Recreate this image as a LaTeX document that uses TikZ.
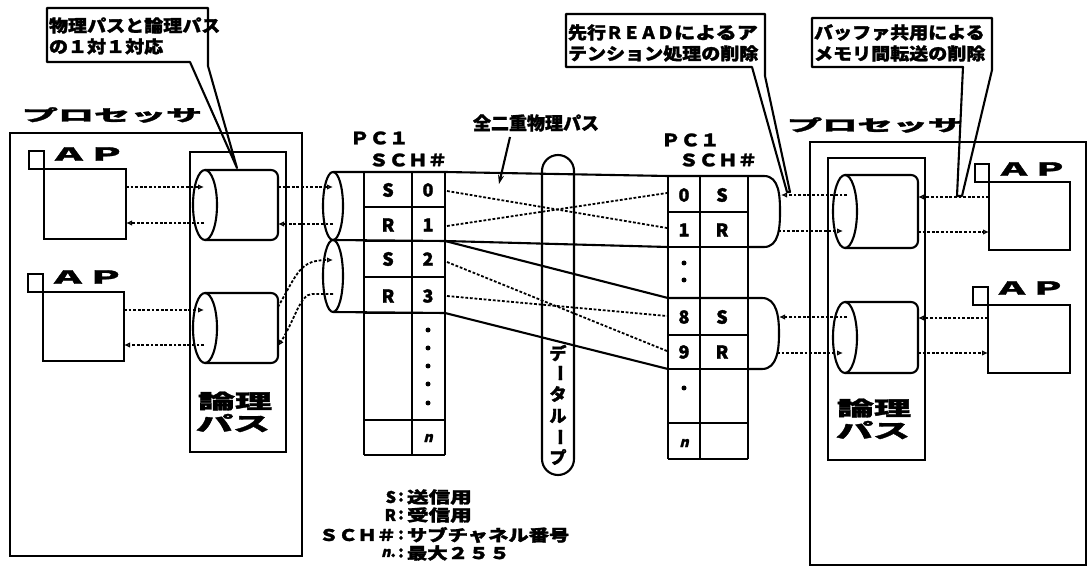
\documentclass[tikz,border=0pt]{standalone}
\usepackage{fontspec}
\usepackage{graphicx}
\usetikzlibrary{arrows.meta}
\newfontfamily\jp{Noto Sans CJK JP}[BoldFeatures={FakeBold=1.6}]
\newfontfamily\jpsl{Noto Sans CJK JP}[FakeSlant=0.25,BoldFeatures={FakeBold=1.6,FakeSlant=0.25}]
\newcommand\wsc[2]{\scalebox{#1}[1]{#2}}
\newcommand\fsz[1]{\fontsize{#1}{#1}\selectfont}
\newcommand\lcyl[5]{%
  \draw[ln,rounded corners=7pt] (#1,#2-#4) -- (#5,#2-#4) -- (#5,#2+#4) -- (#1,#2+#4);
  \draw[ln] (#1,#2) ellipse ({#3pt} and {#4pt});}
\begin{document}
\begin{tikzpicture}[x=1pt,y=-1pt,
 ln/.style={line width=2.1pt, line join=round},
 rect/.style={draw, line width=2.1pt, inner sep=0pt, outer sep=0pt, anchor=north west},
 dl/.style={line width=1.8pt, dash pattern=on 2.8pt off 1.8pt},
 arr/.style={dl, -{Latex[open,length=6pt,width=5.5pt]}},
 t/.style={inner sep=0pt, outer sep=0pt, font=\jp\bfseries},
]
\useasboundingbox (0,0) rectangle (1088,569);

% ---------- processors ----------
\node[rect, minimum width=292pt, minimum height=423pt] (lproc) at (10,133) {};
\node[rect, minimum width=96pt, minimum height=300pt] (llog) at (190,152) {};
\node[rect, minimum width=276pt, minimum height=423pt] (rproc) at (810,142) {};
\node[rect, minimum width=97pt, minimum height=302pt] (rlog) at (828,158) {};
\node[t] (lproct) at (112,115) {\fsz{16}\wsc{2.25}{プロセッサ}};
\node[t] (rproct) at (875,125) {\fsz{16}\wsc{2.2}{プロセッサ}};
\node[t] (llog1) at (235,401) {\fsz{20}\wsc{1.85}{論理}};
\node[t] (llog2) at (233,423) {\fsz{20}\wsc{1.85}{パス}};
\node[t] (rlog1) at (874,408) {\fsz{20}\wsc{1.85}{論理}};
\node[t] (rlog2) at (873,430) {\fsz{20}\wsc{1.85}{パス}};

% ---------- AP boxes ----------
\node[rect, minimum width=82pt, minimum height=70pt] (lap1) at (44,169) {};
\node[rect, minimum width=15pt, minimum height=18pt] (lap1s) at (29,151) {};
\node[t, anchor=west] (lap1t) at (50,154) {\fsz{18}\wsc{2.1}{ＡＰ}};
\node[rect, minimum width=81pt, minimum height=69pt] (lap2) at (43,292) {};
\node[rect, minimum width=15pt, minimum height=18pt] (lap2s) at (28,274) {};
\node[t, anchor=west] (lap2t) at (49,277) {\fsz{18}\wsc{2.1}{ＡＰ}};
\node[rect, minimum width=81pt, minimum height=68pt] (rap1) at (989,182) {};
\node[rect, minimum width=14pt, minimum height=18pt] (rap1s) at (975,164) {};
\node[t, anchor=west] (rap1t) at (996,169) {\fsz{18}\wsc{2.0}{ＡＰ}};
\node[rect, minimum width=82pt, minimum height=68pt] (rap2) at (988,305) {};
\node[rect, minimum width=15pt, minimum height=18pt] (rap2s) at (973,287) {};
\node[t, anchor=west] (rap2t) at (994,288) {\fsz{18}\wsc{2.0}{ＡＰ}};

% ---------- logical path cylinders ----------
\lcyl{205}{205}{12}{35}{278}
\lcyl{205}{328}{12}{35}{278}
\lcyl{845}{211.5}{12}{36.5}{918}
\lcyl{845}{337.5}{12}{35.5}{918}

% ---------- physical path tubes ----------
\draw[ln] (333,206) ellipse (10pt and 34pt);
\draw[ln] (333,276) ellipse (10pt and 36pt);
\draw[ln] (333,172) -- (445,172) -- (668,176) -- (748,176) -- (764,176)
  to[out=0,in=90] (780,212) to[out=-90,in=0] (764,247) -- (748,247);
\draw[ln] (333,240) -- (445,241) -- (668,247);
\draw[ln] (445,241) -- (668,298) -- (748,298) -- (762,298)
  to[out=0,in=90] (779,333) to[out=-90,in=0] (762,369) -- (748,369);
\draw[ln] (333,312) -- (445,313) -- (668,369);

% left table
\foreach \x in {364,412,445} \draw[ln] (\x,172) -- (\x,455);
\foreach \y in {172,207,241,277,313,420,455} \draw[ln] (364,\y) -- (445,\y);
% right table
\foreach \x in {668,700,748} \draw[ln] (\x,176) -- (\x,459);
\foreach \y in {176,212,247,298,335,369,423,459} \draw[ln] (668,\y) -- (748,\y);

\node[t] (ls0) at (388,190) {\fsz{18}S};
\node[t] (ln0) at (428,190) {\fsz{18}0};
\node[t] (ls1) at (388,225) {\fsz{18}R};
\node[t] (ln1) at (428,225) {\fsz{18}1};
\node[t] (ls2) at (388,259) {\fsz{18}S};
\node[t] (ln2) at (428,259) {\fsz{18}2};
\node[t] (ls3) at (388,296) {\fsz{18}R};
\node[t] (ln3) at (428,296) {\fsz{18}3};
\foreach \y in {330,348,366,384,403} \fill (428,\y) circle (2.5pt);
\node[t] (lnn) at (428,438) {\jpsl\bfseries\fsz{14}n};

\node[t] (rn0) at (684,195) {\fsz{18}0};
\node[t] (rs0) at (722,195) {\fsz{18}S};
\node[t] (rn1) at (684,230) {\fsz{18}1};
\node[t] (rs1) at (722,230) {\fsz{18}R};
\fill (684,263) circle (2.5pt);
\fill (684,280) circle (2.5pt);
\node[t] (rn8) at (684,317) {\fsz{18}8};
\node[t] (rs8) at (722,317) {\fsz{18}S};
\node[t] (rn9) at (684,352) {\fsz{18}9};
\node[t] (rs9) at (722,352) {\fsz{18}R};
\fill (684,388) circle (2.5pt);
\node[t] (rnn) at (684,443) {\jpsl\bfseries\fsz{14}n};

% crossing dotted channels
\draw[dl] (447,191) -- (667,228);
\draw[dl] (447,226) -- (667,193);
\draw[dl] (447,262) -- (667,351);
\draw[dl] (447,296) -- (667,316);

% data loop
\draw[ln, rounded corners=16pt] (542,155) rectangle (574,475);
\node[t] (dl1) at (558,353) {\fsz{17}デ};
\node[t, rotate=-90] (dl2) at (558,373) {\fsz{17}ー};
\node[t] (dl3) at (558,394) {\fsz{17}タ};
\node[t] (dl4) at (558,416) {\fsz{17}ル};
\node[t, rotate=-90] (dl5) at (558,437) {\fsz{17}ー};
\node[t] (dl6) at (558,457) {\fsz{17}プ};

% full-duplex label
\node[t] (fdp) at (536,123) {\fsz{18}全二重物理パス};
\coordinate (fdpa) at (510,137);
\coordinate (fdpb) at (499,184);
\draw[ln, -{Stealth[length=9pt,width=6pt]}] (fdpa) -- (fdpb);

% PC1 labels
\node[t, anchor=west] (lpc) at (350,138) {\fsz{17}\wsc{1.15}{ＰＣ１}};
\node[t, anchor=west] (lsch) at (369,160) {\fsz{17}\wsc{1.15}{ＳＣＨ＃}};
\node[t, anchor=west] (rpc) at (661,140) {\fsz{17}\wsc{1.15}{ＰＣ１}};
\node[t, anchor=west] (rsch) at (679,160) {\fsz{17}\wsc{1.15}{ＳＣＨ＃}};

% ---------- arrows left ----------
\draw[arr] (126,187) -- (204,187);
\draw[arr] (204,223) -- (126,223);
\draw[arr] (278,187) -- (333,187);
\draw[arr] (333,224) -- (278,224);
\draw[arr] (124,310) -- (204,310);
\draw[arr] (204,345) -- (124,345);
\draw[arr] (278,307) .. controls (298,272) and (300,260) .. (333,260);
\draw[arr] (333,294) -- (312,294) .. controls (300,294) and (294,322) .. (278,346);

% ---------- arrows right ----------
\draw[arr] (847,195) -- (781,195);
\draw[arr] (778,231) -- (843,231);
\draw[arr] (989,197) -- (918,197);
\draw[arr] (918,232) -- (989,232);
\draw[arr] (847,317) -- (779,317);
\draw[arr] (777,353) -- (843,353);
\draw[arr] (988,318) -- (918,318);
\draw[arr] (918,353) -- (988,353);

% ---------- callouts ----------
\draw[ln] (47,8) -- (208,8) -- (208,66) -- (237,168) -- (190,62) -- (47,62) -- cycle;
\node[t, anchor=west] (c1a) at (49,25.5) {\fsz{17}\wsc{1.12}{物理パスと論理パス}};
\node[t, anchor=west] (c1b) at (49,46.5) {\fsz{17}\wsc{1.12}{の１対１対応}};

\draw[ln] (566,14) -- (765,14) -- (765,76) -- (790,192) -- (787,192) -- (752,67) -- (566,67) -- cycle;
\node[t, anchor=west] (c2a) at (568,32.5) {\fsz{17}\wsc{1.12}{先行}\wsc{1.0}{ＲＥＡＤ}\wsc{1.24}{によるア}};
\node[t, anchor=west] (c2b) at (568,53.5) {\fsz{17}\wsc{1.12}{テンション処理の削除}};

\draw[ln] (812,18) -- (992,18) -- (992,70) -- (962,196) -- (957,196) -- (963,67) -- (812,67) -- cycle;
\node[t, anchor=west] (c3a) at (814,32.5) {\fsz{17}\wsc{1.12}{バッファ共用による}};
\node[t, anchor=west] (c3b) at (814,53.5) {\fsz{17}\wsc{1.12}{メモリ間転送の削除}};

% ---------- legend ----------
\node[t, anchor=east] (lg1l) at (396,497) {\fsz{16}S};
\node[t] (lg1c) at (401,497) {\fsz{16}:};
\node[t, anchor=west] (lg1t) at (407,497) {\fsz{16}\wsc{1.35}{送信用}};
\node[t, anchor=east] (lg2l) at (396,515) {\fsz{16}R};
\node[t] (lg2c) at (401,515) {\fsz{16}:};
\node[t, anchor=west] (lg2t) at (407,515) {\fsz{16}\wsc{1.35}{受信用}};
\node[t, anchor=east] (lg3l) at (396,535) {\fsz{16}\wsc{1.2}{ＳＣＨ＃}};
\node[t] (lg3c) at (401,535) {\fsz{16}:};
\node[t, anchor=west] (lg3t) at (407,535) {\fsz{16}\wsc{1.27}{サブチャネル番号}};
\node[t, anchor=east] (lg4l) at (396,553) {{\jpsl\bfseries\fsz{14}n}\fsz{16}.};
\node[t] (lg4c) at (401,553) {\fsz{16}:};
\node[t, anchor=west] (lg4t) at (407,553) {\fsz{16}\wsc{1.27}{最大}\wsc{1.3}{２５５}};
\end{tikzpicture}
\end{document}
